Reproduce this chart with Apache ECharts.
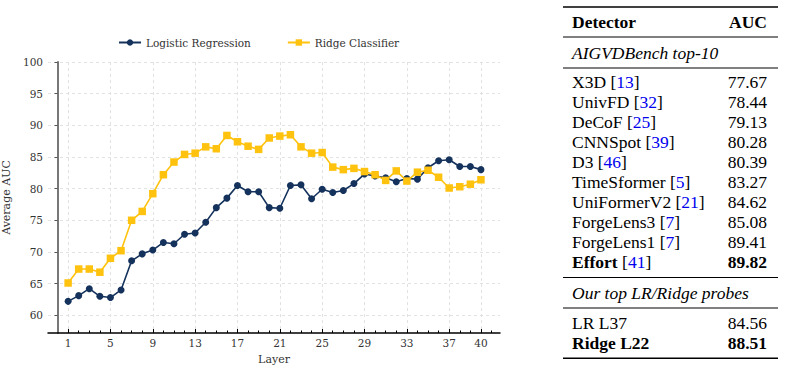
<!DOCTYPE html>
<html>
<head>
<meta charset="utf-8">
<script src="https://cdn.jsdelivr.net/npm/echarts@6/dist/echarts.min.js"></script>
<style>
  html, body { margin: 0; padding: 0; background: #fff; }
  #chart { width: 785px; height: 371px; }
</style>
</head>
<body>
<div id="chart"></div>
<script>
// layers probed and mean AUC per layer
var layers = [1,2,3,4,5,6,7,8,9,10,11,12,13,14,15,16,17,18,19,20,
              21,22,23,24,25,26,27,28,29,30,31,32,33,34,35,36,37,38,39,40];
var logisticAuc = [62.2,63.1,64.2,63.0,62.8,64.0,68.6,69.7,70.3,71.5,
                   71.3,72.8,73.0,74.7,77.0,78.5,80.5,79.5,79.5,77.0,
                   76.9,80.5,80.6,78.4,79.9,79.4,79.7,80.8,82.3,82.0,
                   81.7,81.1,81.6,81.5,83.3,84.4,84.56,83.5,83.5,83.0];
var ridgeAuc = [65.1,67.3,67.3,66.8,69.0,70.2,75.0,76.4,79.2,82.2,
                84.2,85.4,85.6,86.6,86.3,88.4,87.4,86.7,86.2,88.0,
                88.3,88.51,86.6,85.6,85.7,83.4,83.0,83.2,82.7,82.2,
                81.3,82.8,81.2,82.6,82.9,81.8,80.1,80.3,80.7,81.4];
var xTickLabels = [1,5,9,13,17,21,25,29,33,37,40];
var yTickLabels = [60,65,70,75,80,85,90,95,100];

// comparison table
var detectors = ['X3D','UnivFD','DeCoF','CNNSpot','D3','TimeSformer','UniFormerV2','ForgeLens3','ForgeLens1','Effort'];
var cites = [13,32,25,39,46,5,21,7,7,41];
var detectorAuc = ['77.67','78.44','79.13','80.28','80.39','83.27','84.62','85.08','89.41','89.82'];
var probes = ['LR L37','Ridge L22'];
var probeAuc = ['84.56','88.51'];

var chart = echarts.init(document.getElementById('chart'), null, { renderer: 'svg' });

var serif = 'DejaVu Serif';
var navy = '#14325c';
var gold = '#ffc20e';

function pairs(vals) {
    return layers.map(function (l, i) { return [l, vals[i]]; });
}

// table drawing
var tFont = 'Liberation Serif';
var tSize = 17.5;
var colL = 572, colR = 767, ruleL = 563, ruleR = 778;
var graphics = [];
function rule(y, w) {
    graphics.push({ type: 'line', shape: { x1: ruleL, y1: y, x2: ruleR, y2: y },
        style: { stroke: '#000', lineWidth: w } });
}
function cell(x, y, text, align, rich) {
    graphics.push({ type: 'text', style: {
        x: x, y: y, text: text, align: align, verticalAlign: 'middle',
        fontFamily: tFont, fontSize: tSize, fill: '#000', rich: rich || {}
    } });
}
var rich = {
    n: { fontFamily: tFont, fontSize: tSize, fill: '#000' },
    b: { fontFamily: tFont, fontSize: tSize, fontWeight: 'bold', fill: '#000' },
    c: { fontFamily: tFont, fontSize: tSize, fill: '#0000ee' }
};
rule(7, 1.6);
cell(colL, 22, '{b|Detector}', 'left', rich);
cell(colR, 22, '{b|AUC}', 'right', rich);
rule(37, 1);
cell(colL, 52.5, 'AIGVDBench top-10', 'left');
graphics[graphics.length - 1].style.fontStyle = 'italic';
rule(68, 1);
detectors.forEach(function (d, i) {
    var last = i === detectors.length - 1;
    var y = 81.7 + i * 20;
    cell(colL, y, '{' + (last ? 'b' : 'n') + '|' + d + '}{n| [}{c|' + cites[i] + '}{n|]}', 'left', rich);
    cell(colR, y, '{' + (last ? 'b' : 'n') + '|' + detectorAuc[i] + '}', 'right', rich);
});
rule(277.5, 1);
cell(colL, 293, 'Our top LR/Ridge probes', 'left');
graphics[graphics.length - 1].style.fontStyle = 'italic';
rule(308, 1);
probes.forEach(function (p, i) {
    var last = i === probes.length - 1;
    var y = 322.8 + i * 19.7;
    cell(colL, y, '{' + (last ? 'b' : 'n') + '|' + p + '}', 'left', rich);
    cell(colR, y, '{' + (last ? 'b' : 'n') + '|' + probeAuc[i] + '}', 'right', rich);
});
rule(358.3, 1.6);

var option = {
    animation: false,
    backgroundColor: '#fff',
    textStyle: { fontFamily: serif },
    legend: {
        left: 113,
        top: 32,
        itemWidth: 22,
        itemHeight: 8,
        itemGap: 36,
        textStyle: { fontFamily: serif, fontSize: 10.5, color: '#333' },
        data: ['Logistic Regression', 'Ridge Classifier']
    },
    grid: { left: 48, right: 285, top: 62, bottom: 38, outerBoundsMode: 'none', containLabel: false },
    xAxis: [
        {
            type: 'value',
            min: -0.9,
            max: 41.8,
            name: 'Layer',
            nameLocation: 'middle',
            nameGap: 21,
            nameTextStyle: { fontFamily: serif, fontSize: 11, color: '#333' },
            axisLine: { lineStyle: { color: '#000', width: 1.5 } },
            axisTick: { inside: true, length: 4, customValues: xTickLabels, lineStyle: { color: '#000' } },
            axisLabel: { customValues: xTickLabels, fontFamily: serif, fontSize: 10.5, color: '#333', margin: 4.5 },
            splitLine: { show: true, lineStyle: { color: '#e2e2e2', type: [3, 3] } }
        },
        {
            type: 'value',
            min: -0.9,
            max: 41.8,
            position: 'bottom',
            axisLine: { show: false },
            axisTick: { inside: true, length: 2.5, customValues: layers.concat([41]), lineStyle: { color: '#000' } },
            axisLabel: { show: false },
            splitLine: { show: false }
        }
    ],
    yAxis: {
        type: 'value',
        min: 57.2,
        max: 100,
        name: 'Average AUC',
        nameLocation: 'middle',
        nameGap: 27,
        nameTextStyle: { fontFamily: serif, fontSize: 11, color: '#333' },
        axisLine: { show: true, lineStyle: { color: '#777', width: 2 } },
        axisTick: { show: true, length: 3, customValues: yTickLabels, lineStyle: { color: '#555' } },
        axisLabel: { customValues: yTickLabels, fontFamily: serif, fontSize: 10.5, color: '#333', margin: 5 },
        splitLine: { show: true, lineStyle: { color: '#e2e2e2', type: [3, 3] } }
    },
    series: [
        {
            name: 'Logistic Regression',
            type: 'line',
            data: pairs(logisticAuc),
            symbol: 'circle',
            symbolSize: 7,
            color: navy,
            lineStyle: { width: 1.6, color: navy },
            itemStyle: { color: navy }
        },
        {
            name: 'Ridge Classifier',
            type: 'line',
            data: pairs(ridgeAuc),
            symbol: 'rect',
            symbolSize: 7.5,
            color: gold,
            lineStyle: { width: 1.6, color: gold },
            itemStyle: { color: gold }
        }
    ],
    graphic: graphics
};
chart.setOption(option);
</script>
</body>
</html>
